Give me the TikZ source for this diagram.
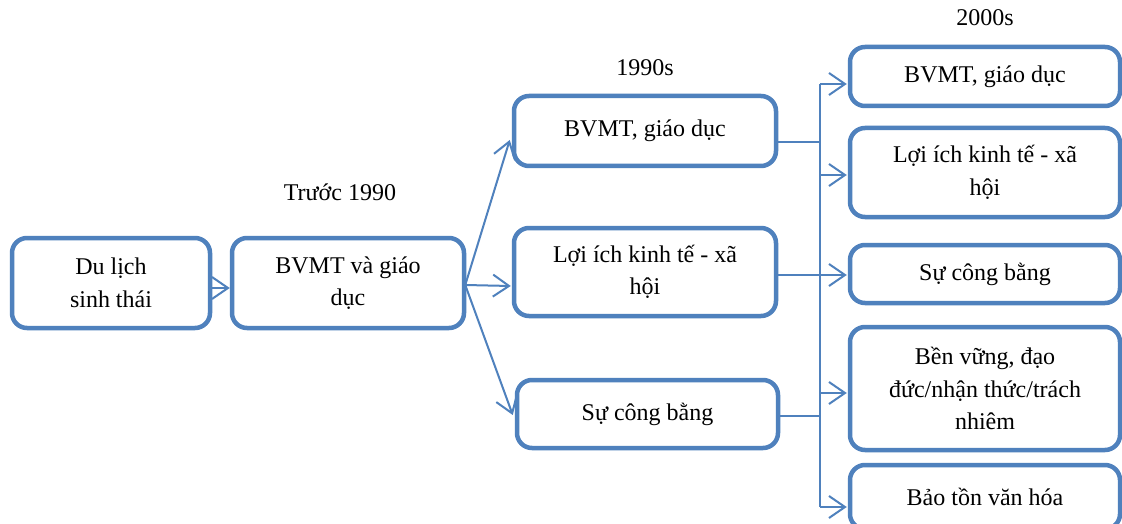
\documentclass[tikz,border=0pt]{standalone}
\usepackage{fontspec}
\setmainfont{Liberation Serif}
\usetikzlibrary{arrows.meta}
\definecolor{boxblue}{HTML}{4F81BD}
\tikzset{
  box/.style={draw=boxblue, line width=4.5pt, rounded corners=15pt, fill=white,
    align=center, inner sep=0pt, font=\fontsize{24}{32.5}\selectfont},
  conn/.style={draw=boxblue, line width=2pt},
  arr/.style={conn, -{Straight Barb[length=16pt,width=22pt,line width=2pt]}},
  lbl/.style={font=\fontsize{24}{32.5}\selectfont, inner sep=0pt}
}
\begin{document}
\begin{tikzpicture}[x=1pt,y=-1pt]
\clip (0,0) rectangle (1122,524);
\fill[white] (0,0) rectangle (1122,524);
% left boxes
\node[box, minimum width=198pt, minimum height=90pt] (dl) at (111,283) {Du lịch\\sinh thái};
\node[box, minimum width=232pt, minimum height=90pt] (tr) at (348,283) {BVMT và giáo\\dục};
% middle column
\node[box, minimum width=262pt, minimum height=70pt] (m1) at (645,131) {BVMT, giáo dục};
\node[box, minimum width=262pt, minimum height=88pt] (m2) at (645,272) {Lợi ích kinh tế - xã\\hội};
\node[box, minimum width=261pt, minimum height=68pt] (m3) at (647.5,414) {Sự công bằng};
% right column
\node[box, minimum width=270pt, minimum height=59pt] (r1) at (985,76.5) {BVMT, giáo dục};
\node[box, minimum width=270pt, minimum height=89pt] (r2) at (985,172.5) {Lợi ích kinh tế - xã\\hội};
\node[box, minimum width=270pt, minimum height=58pt] (r3) at (985,274) {Sự công bằng};
\node[box, minimum width=270pt, minimum height=123pt] (r4) at (985,388.5) {Bền vững, đạo\\đức/nhận thức/trách\\nhiêm};
\node[box, minimum width=270pt, minimum height=64pt] (r5) at (985,497) {Bảo tồn văn hóa};
% labels
\node[lbl] (t0) at (340,192) {Trước 1990};
\node[lbl] (t1) at (645,68) {1990s};
\node[lbl] (t2) at (985,18) {2000s};
% arrows left
\draw[arr] ([yshift=-5pt]dl.east) -- ([yshift=-5pt]tr.west);
\coordinate (src) at ([xshift=-1pt,yshift=-2pt]tr.east);
\draw[arr] (src) -- ([xshift=-2pt,yshift=-9pt]m1.west);
\draw[arr] (src) -- ([xshift=-1pt,yshift=-14pt]m2.west);
\draw[arr] (src) -- ([xshift=-2pt,yshift=-1pt]m3.west);
% trunk
\coordinate (ttop) at (820,84);
\coordinate (tbot) at (820,507);
\draw[conn] (ttop) -- (tbot);
\draw[conn] ([yshift=-11pt]m1.east) -- (820,142);
\draw[conn] ([yshift=-3pt]m2.east) -- (820,275);
\draw[conn] ([yshift=-2pt]m3.east) -- (820,416);
\draw[arr] (ttop) -- ([xshift=-1pt]r1.west |- ttop);
\draw[arr] (820,175) -- ([xshift=-1pt]r2.west |- 0,175);
\draw[arr] (820,275) -- ([xshift=-1pt]r3.west |- 0,275);
\draw[arr] (820,393) -- ([xshift=-1pt]r4.west |- 0,393);
\draw[arr] (tbot) -- ([xshift=-1pt]r5.west |- tbot);
\end{tikzpicture}
\end{document}
